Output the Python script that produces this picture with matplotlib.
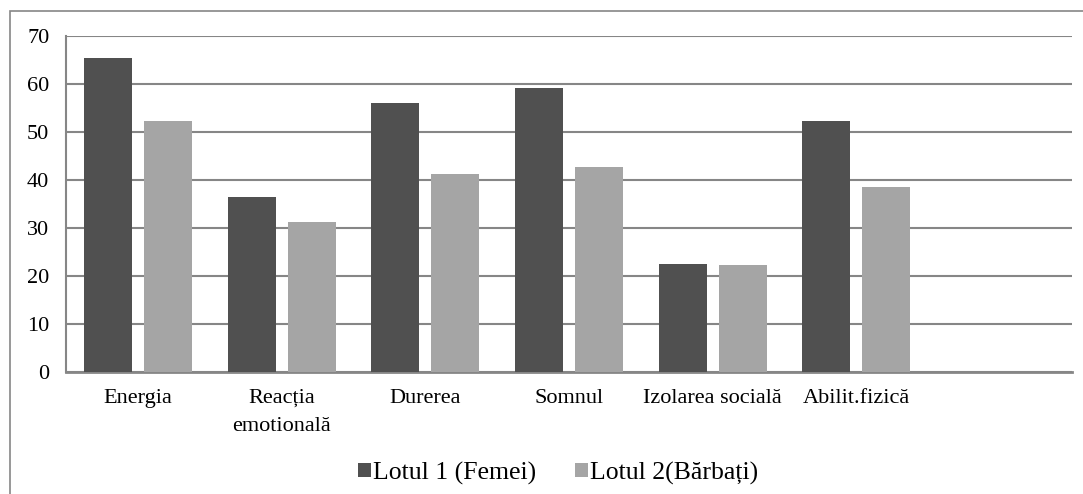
import matplotlib.pyplot as plt
import numpy as np
from matplotlib.patches import Rectangle

plt.rcParams['font.family'] = 'serif'
plt.rcParams['font.serif'] = ['Liberation Serif', 'Times New Roman', 'DejaVu Serif']

# date
categorii = ["Energia", "Reacția\nemotională", "Durerea", "Somnul",
             "Izolarea socială", "Abilit.fizică", ""]
lotul1 = [65.4, 36.4, 56.1, 59.2, 22.4, 52.2, np.nan]
lotul2 = [52.2, 31.3, 41.2, 42.8, 22.3, 38.6, np.nan]
eticheta1 = "Lotul 1 (Femei)"
eticheta2 = "Lotul 2(Bărbați)"

fig = plt.figure(figsize=(10.83, 4.94), dpi=100)
ax = fig.add_axes([66 / 1083, 122 / 494, 1006 / 1083, 336 / 494])

# chenarul exterior
fig.patches.append(Rectangle((10 / 1083, -0.1), 1.2, 1 - 11.5 / 494 + 0.1,
                             transform=fig.transFigure, fill=False,
                             edgecolor='#868686', linewidth=1.2))

x = np.arange(len(categorii))
w = 0.334
ax.bar(x - 0.2085, lotul1, w, color='#505050', label=eticheta1, zorder=3)
ax.bar(x + 0.2085, lotul2, w, color='#a5a5a5', label=eticheta2, zorder=3)

ax.set_xlim(-0.5, len(categorii) - 0.5)
ax.set_ylim(0, 70)
ax.set_yticks(np.arange(0, 71, 10))
ax.yaxis.grid(True, color='#868686', linewidth=1.5, zorder=0)
ax.set_xticks(x)
ax.set_xticklabels(categorii, fontsize=16, linespacing=1.65)
ax.tick_params(axis='y', length=0, labelsize=16, pad=12)
ax.tick_params(axis='x', length=0, pad=12)

for s in ['top', 'right']:
    ax.spines[s].set_visible(False)
ax.spines['left'].set_color('#868686')
ax.spines['left'].set_linewidth(1.5)
ax.spines['bottom'].set_color('#868686')
ax.spines['bottom'].set_linewidth(2)

fig.legend(loc='center', bbox_to_anchor=(558 / 1083, 21 / 494), ncol=2, frameon=False,
           fontsize=18.5, handlelength=0.5, handleheight=0.5, handletextpad=0.1,
           columnspacing=1.5)

plt.savefig("out.png", dpi=100)
